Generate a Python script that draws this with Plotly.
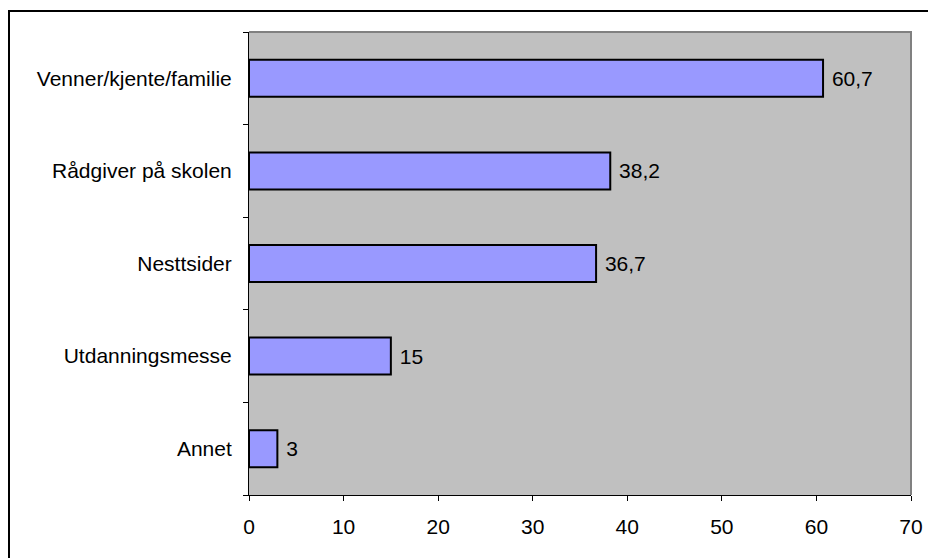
import plotly.graph_objects as go

categories = ["Venner/kjente/familie", "Rådgiver på skolen", "Nesttsider", "Utdanningsmesse", "Annet"]
values = [60.7, 38.2, 36.7, 15, 3]
x_ticks = [0, 10, 20, 30, 40, 50, 60, 70]

labels = [(("%g" % v).replace(".", ",")) for v in values]

# page body has an 8px margin, so figure coordinates = screen - 8
W, H = 928, 550
L, R, T, B = 241, 903, 24, 487

FONT = "Liberation Sans, Arial"

fig = go.Figure()
fig.add_trace(go.Bar(
    y=categories[::-1],
    x=values[::-1],
    orientation="h",
    text=labels[::-1],
    texttemplate=" %{text}",
    textposition="outside",
    textfont=dict(family=FONT, size=21, color="black"),
    cliponaxis=False,
    marker=dict(color="#9999FF", line=dict(color="black", width=2)),
    width=0.4,
    hoverinfo="skip",
))

pw = R - L
ph = B - T
def px(x):
    return (x - L) / pw
def py(y):
    return (B - y) / ph

fig.update_layout(
    width=W, height=H,
    margin=dict(l=L, r=W - R, t=T, b=H - B, pad=0),
    paper_bgcolor="white",
    plot_bgcolor="#C0C0C0",
    showlegend=False,
    font=dict(family=FONT, size=21, color="black"),
    xaxis=dict(
        range=[0, 70], tickvals=x_ticks, ticktext=[str(t) for t in x_ticks],
        showgrid=False, zeroline=False,
        ticks="outside", ticklen=5, tickcolor="black", tickwidth=1,
        showline=True, linecolor="black", linewidth=1,
        ticklabelstandoff=8, fixedrange=True,
    ),
    yaxis=dict(
        type="category", showgrid=False, zeroline=False,
        ticks="outside", ticklen=5, tickcolor="black", tickwidth=1,
        tickson="boundaries",
        showline=True, linecolor="black", linewidth=1,
        ticklabelstandoff=12, fixedrange=True,
    ),
    shapes=[
        # plot-area border (gray) on top and right
        dict(type="path", xref="paper", yref="paper",
             path="M 0 1 L 1 1 L 1 0", line=dict(color="#808080", width=2)),
        # outer chart border (left and top)
        dict(type="path", xref="paper", yref="paper",
             path=f"M {px(1)} {py(H + 20)} L {px(1)} {py(3)} L {px(W + 20)} {py(3)}",
             line=dict(color="black", width=2)),
    ],
)

fig.write_html("out.html")
